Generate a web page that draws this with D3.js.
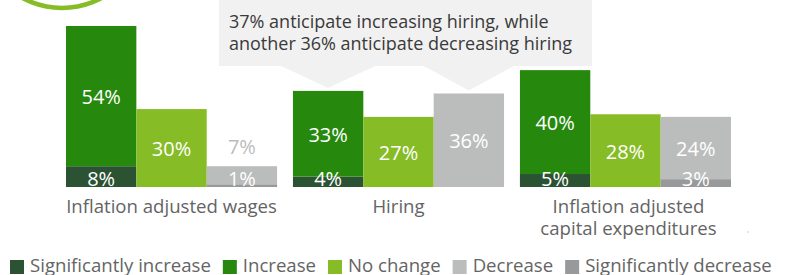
<!DOCTYPE html>
<html><head><meta charset="utf-8">
<script src="https://cdn.jsdelivr.net/npm/d3@7"></script>
<style>
html,body{margin:0;padding:0;background:#fff;}
svg{display:block;font-family:"Open Sans",sans-serif;}
</style></head>
<body>
<svg id="chart" width="788" height="275"></svg>
<script>
const categories = ["Inflation adjusted wages", "Hiring", "Inflation adjusted capital expenditures"];
const categoryLines = [["Inflation adjusted wages"], ["Hiring"], ["Inflation adjusted", "capital expenditures"]];
const sigIncrease = [8, 4, 5];
const increase = [54, 33, 40];
const noChange = [30, 27, 28];
const decrease = [7, 36, 24];
const sigDecrease = [1, 0, 3];
const seriesNames = ["Significantly increase", "Increase", "No change", "Decrease", "Significantly decrease"];
const seriesColors = ["#2c5234", "#26890d", "#86bc25", "#bbbcbc", "#97999b"];
const annotationLines = ["37% anticipate increasing hiring, while", "another 36% anticipate decreasing hiring"];

const svg = d3.select("#chart");
const baseY = 187;
const y = d3.scaleLinear().domain([0, 72]).range([baseY, 0]);
const x = d3.scaleBand().domain(categories).range([66, 731]).paddingInner(0.07).paddingOuter(0);
const cols = ["up", "same", "down"];
const xs = d3.scaleBand().domain(cols).range([0, x.bandwidth()]).padding(0);

// decorative ring
svg.append("circle").attr("cx", 62).attr("cy", -75).attr("r", 83)
  .attr("fill", "none").attr("stroke", "#86bc25").attr("stroke-width", 4.5);

// annotation callout
const hx = x(categories[1]);
const tip1x = hx + xs("up") + xs.bandwidth() / 2;
const tip1y = y(sigIncrease[1] + increase[1]) - 3;
const tip2x = hx + xs("down") + xs.bandwidth() / 2;
const tip2y = y(decrease[1] + sigDecrease[1]) - 3;
const boxL = hx - 74, boxR = x(categories[2]) + 72, boxT = -5, boxB = 66;
const p = d3.path();
p.moveTo(boxL, boxT); p.lineTo(boxR, boxT); p.lineTo(boxR, boxB);
p.lineTo(tip2x + 45, boxB); p.lineTo(tip2x, tip2y); p.lineTo(tip2x - 45, boxB);
p.lineTo(tip1x + 47, boxB); p.lineTo(tip1x, tip1y); p.lineTo(tip1x - 47, boxB);
p.lineTo(boxL, boxB); p.closePath();
svg.append("path").attr("d", p.toString()).attr("fill", "#f1f1f1");
svg.append("g").selectAll("text").data(annotationLines).join("text")
  .attr("x", boxL + 10).attr("y", (d, i) => 28 + i * 22)
  .attr("font-size", 18).attr("fill", "#3a3a3a").text(d => d);

// stacks
const segs = [];
categories.forEach((c, i) => {
  segs.push({c, col: "up", lo: 0, hi: sigIncrease[i], v: sigIncrease[i], s: 0, small: true});
  segs.push({c, col: "up", lo: sigIncrease[i], hi: sigIncrease[i] + increase[i], v: increase[i], s: 1});
  segs.push({c, col: "same", lo: 0, hi: noChange[i], v: noChange[i], s: 2});
  segs.push({c, col: "down", lo: sigDecrease[i], hi: sigDecrease[i] + decrease[i], v: decrease[i], s: 3, above: decrease[i] < 10});
  segs.push({c, col: "down", lo: 0, hi: sigDecrease[i], v: sigDecrease[i], s: 4, small: true});
});
const bars = segs.filter(d => d.v > 0);
svg.append("g").selectAll("rect").data(bars).join("rect")
  .attr("x", d => x(d.c) + xs(d.col))
  .attr("width", xs.bandwidth())
  .attr("y", d => y(d.hi))
  .attr("height", d => y(d.lo) - y(d.hi))
  .attr("fill", d => seriesColors[d.s]);

svg.append("g").selectAll("text").data(bars).join("text")
  .attr("x", d => x(d.c) + xs(d.col) + xs.bandwidth() / 2)
  .attr("y", d => {
    if (d.small) return baseY - 1;
    if (d.above) return y(d.hi + d.lo) - 10;
    return (y(d.lo) + y(d.hi)) / 2 + 8;
  })
  .attr("text-anchor", "middle")
  .attr("font-size", 20)
  .attr("fill", d => d.above ? "#bbbcbc" : "#ffffff")
  .text(d => d.v + "%");

// category labels
categories.forEach((c, i) => {
  svg.append("g").selectAll("text").data(categoryLines[i]).join("text")
    .attr("x", x(c) + x.bandwidth() / 2 + (i === 2 ? 3 : 0))
    .attr("y", (d, j) => 213 + j * 22)
    .attr("text-anchor", "middle").attr("font-size", 18.6).attr("fill", "#646464")
    .text(d => d);
});

svg.append("circle").attr("cx", 748).attr("cy", 232).attr("r", 0.8).attr("fill", "#c8c8c8");

// legend
const lg = svg.append("g");
let lx = 10;
seriesNames.forEach((n, i) => {
  lg.append("rect").attr("x", lx).attr("y", 260).attr("width", 14).attr("height", 14).attr("fill", seriesColors[i]);
  const t = lg.append("text").attr("x", lx + 20).attr("y", 272).attr("font-size", 18.6).attr("fill", "#646464").text(n);
  lx += 20 + t.node().getComputedTextLength() + 12;
});
</script>
</body></html>
